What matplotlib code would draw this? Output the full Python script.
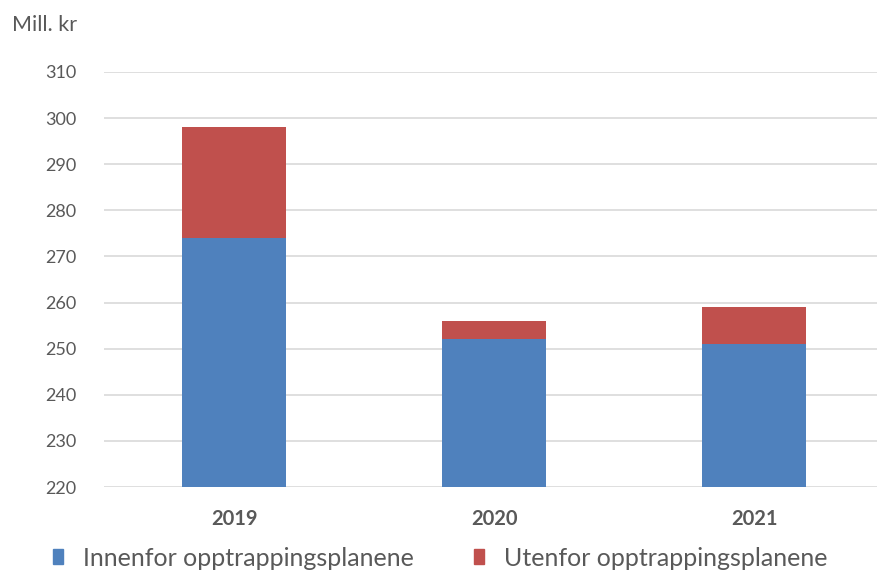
import matplotlib
matplotlib.use("Agg")
import matplotlib.pyplot as plt
from matplotlib.patches import Patch

years = ["2019", "2020", "2021"]
innenfor = [274, 252, 251]
utenfor = [24, 4, 8]
yticks = [220, 230, 240, 250, 260, 270, 280, 290, 300, 310]

blue = "#4F81BD"
red = "#C0504D"
txt = "#595959"

plt.rcParams['font.family'] = ['Lato', 'DejaVu Sans']

W, H = 877, 572
fig = plt.figure(figsize=(W/100, H/100), dpi=100)
ax = fig.add_axes([104/W, (H-487)/H, (W-104)/W, 415/H])

x = list(range(len(years)))
ax.bar(x, innenfor, width=0.4, color=blue, zorder=3)
ax.bar(x, utenfor, width=0.4, bottom=innenfor, color=red, zorder=3)

ax.set_ylim(220, 310)
ax.set_xlim(-0.5, -0.5 + 773/260)
ax.set_yticks(yticks)
ax.set_yticklabels([str(v) for v in yticks], fontsize=13, color=txt)
ax.set_xticks(x)
ax.set_xticklabels(years, fontsize=14.5, fontweight='bold', color=txt)
ax.tick_params(axis='y', length=0, pad=20)
ax.tick_params(axis='x', length=0, pad=16)
ax.grid(axis='y', color='#D9D9D9', linewidth=1.2, zorder=0)
ax.set_axisbelow(True)
for s in ax.spines.values():
    s.set_visible(False)

fig.text(12/W, 1 - 25/H, "Mill. kr", fontsize=15.5, color=txt, va='center', ha='left')

handles = [Patch(color=blue), Patch(color=red)]
fig.legend(handles, ["Innenfor opptrappingsplanene", "Utenfor opptrappingsplanene"],
           loc='center', bbox_to_anchor=(440/W, 1 - 558/H), ncol=2, frameon=False,
           fontsize=18, labelcolor=txt, handlelength=0.4, handleheight=0.55,
           handletextpad=0.8, columnspacing=2.4, borderpad=0, borderaxespad=0)

fig.savefig("out.png", dpi=100)
